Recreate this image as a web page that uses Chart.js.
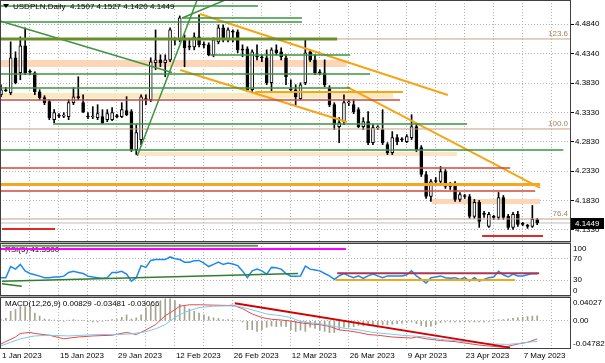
<!DOCTYPE html>
<html lang="en">
<head>
<meta charset="UTF-8">
<title>USDPLN Daily</title>
<script src="https://cdn.jsdelivr.net/npm/chart.js"></script>
<style>
  body { margin: 0; background: #fff; }
  #wrap { position: relative; width: 605px; height: 363px; overflow: hidden; background: #fff; }
  #wrap canvas { position: absolute; left: 0; }
</style>
</head>
<body>
<div id="wrap">
  <canvas id="main" width="605" height="243" style="top:0"></canvas>
  <canvas id="rsi" width="605" height="54" style="top:243px"></canvas>
  <canvas id="macd" width="605" height="66" style="top:297px"></canvas>
</div>
<script>
// ---- data (bar index 0 = 1 Jan 2023) ----
const opens = [4.3635,4.3720,4.3669,4.4264,4.4009,4.4468,4.4026,4.4009,4.3686,4.3584,
4.3516,4.3210,4.3278,4.3270,4.3261,4.3499,4.3590,4.3499,4.3261,4.3255,
4.3244,4.3261,4.3210,4.3210,4.3265,4.3261,4.3363,4.3346,4.2700,4.2870,
4.3560,4.3550,4.4179,4.4230,4.4179,4.4230,4.4570,4.4570,4.4570,4.4451,
4.4451,4.4621,4.4485,4.4485,4.4315,4.4536,4.4774,4.4570,4.4706,4.4706,
4.4400,4.4417,4.3720,4.4290,4.4270,4.4264,4.3839,4.4400,4.4366,4.4264,
4.3725,4.3720,4.3567,4.3839,4.4366,4.4230,4.4015,4.4009,4.3754,4.3465,
4.3091,4.3176,4.3495,4.3465,4.3380,4.3091,4.3176,4.2819,4.3070,4.3040,
4.2785,4.2649,4.2904,4.2870,4.2836,4.2904,4.3091,4.2734,4.2275,4.1901,
4.2160,4.2156,4.2326,4.2075,4.2105,4.1850,4.1905,4.1901,4.1561,4.1799,
4.1600,4.1391,4.1550,4.1544,4.1884,4.1561,4.1374,4.1595,4.1430,4.1395,
4.1391,4.1507];
const highs = [4.3805,4.3760,4.4536,4.4366,4.4621,4.4774,4.4060,4.4026,4.3720,4.3618,
4.3550,4.3380,4.3312,4.3329,4.3550,4.3754,4.3941,4.3635,4.3329,4.3431,
4.3465,4.3380,4.3380,4.3414,4.3300,4.3499,4.3601,4.3380,4.3125,4.3635,
4.3635,4.4264,4.4740,4.4315,4.4315,4.4774,4.4604,4.4978,4.4655,4.4570,
4.4689,4.4995,4.4536,4.4519,4.4604,4.4825,4.4825,4.4774,4.4740,4.4740,
4.4485,4.4451,4.4400,4.4485,4.4315,4.4400,4.4434,4.4485,4.4434,4.4315,
4.3890,4.3805,4.3839,4.4570,4.4400,4.4315,4.4060,4.4230,4.3788,4.3499,
4.3244,4.3635,4.3550,4.3550,4.3414,4.3244,4.3346,4.3125,4.3108,4.3380,
4.2819,4.3006,4.2955,4.2904,4.2955,4.3295,4.3125,4.2768,4.2326,4.2190,
4.2224,4.2411,4.2360,4.2139,4.2156,4.1969,4.1935,4.1935,4.1850,4.1833,
4.1646,4.1629,4.1580,4.1969,4.1918,4.1595,4.1629,4.1646,4.1460,4.1425,
4.1748,4.1527];
const lows = [4.3601,4.3690,4.3635,4.3820,4.3890,4.3975,4.3975,4.3635,4.3550,4.3465,
4.3210,4.3159,4.3244,4.3244,4.3210,4.3465,4.3550,4.3329,4.3227,4.3227,
4.3210,4.3142,4.3176,4.3193,4.3240,4.3244,4.3278,4.2666,4.2615,4.2785,
4.3465,4.3516,4.4060,4.4111,4.3941,4.4196,4.4485,4.4536,4.4111,4.4400,
4.4400,4.4451,4.4434,4.4298,4.4281,4.4502,4.4536,4.4536,4.4536,4.4349,
4.4281,4.3686,4.3686,4.4230,4.4196,4.3805,4.3669,4.4315,4.4230,4.3805,
4.3669,4.3465,4.3550,4.3805,4.4196,4.3975,4.3975,4.3771,4.3431,4.3040,
4.2819,4.3125,4.3448,4.3312,4.3074,4.3040,4.2785,4.2785,4.3040,4.2785,
4.2615,4.2615,4.2785,4.2836,4.2819,4.2870,4.2666,4.2241,4.1867,4.1816,
4.2105,4.2122,4.2037,4.2020,4.1816,4.1816,4.1867,4.1527,4.1527,4.1374,
4.1544,4.1374,4.1510,4.1510,4.1510,4.1340,4.1340,4.1391,4.1400,4.1357,
4.1374,4.1420];
const closes = [4.3720,4.3700,4.4264,4.3839,4.4468,4.4009,4.4020,4.3686,4.3584,4.3499,
4.3244,4.3329,4.3270,4.3278,4.3499,4.3601,4.3584,4.3346,4.3255,4.3261,
4.3312,4.3159,4.3312,4.3329,4.3261,4.3380,4.3295,4.2700,4.2989,4.3601,
4.3550,4.4196,4.4230,4.4179,4.4230,4.4740,4.4565,4.4944,4.4434,4.4445,
4.4621,4.4485,4.4480,4.4315,4.4570,4.4774,4.4570,4.4740,4.4700,4.4400,
4.4395,4.3720,4.4366,4.4281,4.4264,4.3839,4.4400,4.4349,4.4281,4.3941,
4.3720,4.3601,4.3805,4.4349,4.4230,4.4009,4.4009,4.3805,4.3465,4.3125,
4.3159,4.3499,4.3499,4.3346,4.3091,4.3176,4.2819,4.3074,4.3074,4.2819,
4.2649,4.2904,4.2836,4.2865,4.2921,4.3091,4.2700,4.2275,4.1901,4.2156,
4.2156,4.2326,4.2071,4.2071,4.1850,4.1935,4.1901,4.1561,4.1799,4.1476,
4.1595,4.1595,4.1544,4.1884,4.1544,4.1374,4.1595,4.1425,4.1425,4.1391,
4.1510,4.1449];

const rsiValues = [34.6,34.6,55.6,50.7,59.7,47.4,42.4,40.0,37.5,34.6,
34.6,35.8,35.8,37.5,44.5,46.5,44.5,42.4,37.5,35.8,
34.6,33.4,34.6,44.5,44.5,46.5,41.2,28.0,34.6,57.3,
54.0,67.1,68.8,68.8,68.8,73.7,70.4,68.8,63.8,63.8,
66.3,67.1,62.2,55.6,59.7,63.8,59.7,62.2,60.5,57.3,
47.4,34.6,47.4,50.7,47.4,41.2,54.0,53.1,50.7,42.4,
37.5,37.5,37.9,56.4,50.7,49.0,47.4,42.4,37.9,31.3,
37.9,42.4,37.9,34.6,37.9,33.4,37.9,41.2,37.9,34.6,
37.9,37.9,37.9,37.9,40.0,47.4,37.9,31.3,24.7,34.6,
35.8,37.9,34.6,33.4,34.6,31.3,34.6,28.0,34.6,28.0,
31.3,34.6,35.8,46.5,40.0,35.8,41.2,37.9,37.9,40.0,
42.4,41.35];

const histValues = [0.002,0.004,0.016,0.019,0.024,0.024,0.022,0.013,0.008,0.003,
0.002,0.001,0,-0.001,0.001,0.002,0.001,0,-0.001,-0.002,
-0.002,-0.001,0,0.002,0.002,0.006,0.010,0.003,0.005,0.010,
0.022,0.028,0.031,0.034,0.037,0.037,0.034,0.028,0.025,0.020,
0.016,0.013,0.010,0.007,0.005,0.004,0.002,0.002,0.001,0,
-0.002,-0.015,-0.015,-0.018,-0.015,-0.011,-0.009,-0.010,-0.009,-0.010,
-0.015,-0.018,-0.016,-0.018,-0.011,-0.013,-0.016,-0.018,-0.020,-0.020,
-0.015,-0.011,-0.010,-0.010,-0.008,-0.009,-0.008,-0.007,-0.007,-0.007,
-0.007,-0.006,-0.005,-0.004,-0.003,-0.002,-0.005,-0.008,-0.010,-0.009,
-0.007,-0.003,-0.002,-0.002,-0.002,-0.002,-0.002,-0.002,-0.002,-0.002,
-0.002,-0.001,0,0.002,0.002,0.003,0.004,0.005,0.006,0.007,
0.008,0.00829];

const macdIdx = [0,1,3,4,6,7,10,13,16,19,23,26,28,30,32,34,36,37,39,41,44,47,48,50,52,54,56,58,60,62,64,66,68,70,72,74,76,78,81,85,86,88,91,94,96,99,102,104,107,109,111];
const macdVals = [-0.0394,-0.0353,-0.0275,-0.0215,-0.0197,-0.0215,-0.0245,-0.0305,-0.0275,-0.0257,-0.0245,-0.0197,-0.0233,-0.0155,-0.0065,0.0085,0.0187,0.0247,0.0271,0.0271,0.0265,0.0259,0.0265,0.0205,0.0115,0.0055,0.0025,0.0013,-0.0005,-0.0035,-0.0053,-0.0065,-0.0095,-0.0155,-0.0173,-0.0197,-0.0233,-0.0245,-0.0275,-0.0293,-0.0275,-0.0305,-0.0335,-0.0353,-0.0377,-0.0412,-0.0435,-0.0450,-0.0394,-0.0365,-0.03066];
const sigIdx = [0,2,4,7,10,14,17,20,24,27,30,32,34,36,38,41,44,47,49,51,53,55,58,60,61,62,64,66,69,71,74,77,80,83,85,88,91,94,96,99,102,105,107,109,111];
const sigVals = [-0.0424,-0.0365,-0.0305,-0.0257,-0.0245,-0.0257,-0.0245,-0.0233,-0.0233,-0.0221,-0.0185,-0.0137,-0.0065,0.0055,0.0145,0.0223,0.0247,0.0253,0.0247,0.0205,0.0163,0.0115,0.0085,0.0055,0.0020,-0.0010,-0.0035,-0.0053,-0.0095,-0.0125,-0.0155,-0.0197,-0.0221,-0.0245,-0.0257,-0.0275,-0.0317,-0.0335,-0.0353,-0.0377,-0.0394,-0.0400,-0.0385,-0.0365,-0.03481];

const dateLabels = ['1 Jan 2023','15 Jan 2023','29 Jan 2023','12 Feb 2023','26 Feb 2023','12 Mar 2023','26 Mar 2023','9 Apr 2023','23 Apr 2023','7 May 2023'];
const priceTicks = [4.4840, 4.4340, 4.3830, 4.3330, 4.2830, 4.2330, 4.1830, 4.1330];
const rsiTicks = [100, 70, 30, 0];
const macdTicks = [0.04027, 0, -0.04782];

// drawn objects: [price, fromBar, toBar] and [bar1, value1, bar2, value2]
const greenLevels = [[4.5147,-0.2,53.2],[4.4874,-0.2,62.3],[4.4942,37.5,62.3],[4.4312,43.3,72.3],[4.3988,-0.2,76.4],[4.3749,-0.2,72.3],[4.3136,10.8,96.5],[4.2693,-0.2,116.4]];
const oliveLevels = [[4.4584,-0.2,69.6]];
const redLevels = [[4.3545,-0.2,82.6],[4.2386,-0.2,105.4],[4.1994,-0.2,110.6]];
const redShortLevels = [[4.1347,0.2,11.2],[4.1228,99.6,112.2]];
const orangeLevels = [[4.3681,52.6,83.2]];
const orangeThickLevels = [[4.2105,-0.2,111.6]];
const fiboLevels = [4.4585, 4.3051, 4.1517];
const fiboNames = ['123.6', '100.0', '76.4'];
const zones = [[4.4227,4.4107,-0.2,71.6],[4.3664,4.3579,-0.2,81.2],[4.2659,4.2591,28.2,94.4],[4.1858,4.1773,89.2,111.6]];
const greenTrends = [[-0.2,4.4891,35.4,4.4012],[28.2,4.2591,40.6,4.5249],[37.5,4.4942,46.4,4.5249]];
const orangeTrends = [[41.2,4.5010,92.5,4.3630],[71.6,4.3767,111.6,4.2046],[37.1,4.4056,71.6,4.3170]];
const rsiLevels = [[94.7,0.2,53.2],[88.8,-0.2,71.4],[43.1,69.6,111.4],[30.0,69.2,106.4]];
const rsiTrends = [[0.2,28.0,61.5,42.5],[0.2,22.9,4.3,18.2]];
const macdTrends = [[48.4,0.0295,105.4,-0.0455]];

// ---- layout / style ----
const F = '"Liberation Sans", Arial, sans-serif';
const gridColor = '#b4b4b4';
const xMin = -0.207, xMax = 118.0;
const gridIdx = [];
for (let i = 0; i <= xMax; i += 6) gridIdx.push(i);
const idx = closes.map((_, i) => i);
const last = closes.length - 1;

function xScale(h) {
  return {
    type: 'linear', min: xMin, max: xMax, offset: false,
    afterBuildTicks: s => { s.ticks = gridIdx.map(v => ({ value: v })); },
    afterFit: s => { s.height = h; },
    ticks: { display: false },
    grid: { color: gridColor, drawTicks: false, offset: false },
    border: { display: false, dash: [1, 2] }
  };
}
function yScale(min, max, ticks, tickLen) {
  return {
    position: 'right', min, max,
    afterBuildTicks: s => { s.ticks = ticks.map(v => ({ value: v })); },
    afterFit: s => { s.width = 34; },
    ticks: { display: false },
    grid: { color: gridColor, drawTicks: tickLen > 0, tickLength: tickLen, tickColor: '#000', tickBorderDash: [] },
    border: { display: false, dash: [1, 2] }
  };
}
function seg(x1, y1, x2, y2, color, width, order) {
  return { type: 'line', data: [{ x: x1, y: y1 }, { x: x2, y: y2 }], borderColor: color, borderWidth: width,
           pointRadius: 0, fill: false, order: order ?? 0 };
}
const levels = (arr, color, w) => arr.map(l => seg(l[1], l[0], l[2], l[0], color, w));
const trends = (arr, color, w) => arr.map(t => seg(t[0], t[1], t[2], t[3], color, w));

const frame = {
  id: 'frame',
  afterDraw(chart) {
    const { ctx, chartArea: a } = chart;
    ctx.save();
    ctx.fillStyle = '#a8a8a8';
    ctx.fillRect(0, a.bottom, a.right, chart.height - a.bottom > 1 ? 0 : 1);
    ctx.strokeStyle = '#404040';
    ctx.lineWidth = 1;
    ctx.strokeRect(a.left + 0.5, a.top + 0.5, a.right - a.left - 1, a.bottom - a.top - 1);
    ctx.restore();
  }
};
const opts = (scales, padding, plugins) => ({
  type: 'bar', options: {
    responsive: false, animation: false, devicePixelRatio: 1, events: [],
    layout: { padding },
    plugins: { legend: { display: false }, tooltip: { enabled: false } },
    scales
  }, plugins
});

// ---- main price chart ----
const zoneColors = ['#fcd6b6', '#f8eabf', '#fde4c6', '#fbd7b8'];
const mainSets = [];
mainSets.push(...levels(greenLevels, '#3d9440', 1.5));
mainSets.push(...levels(oliveLevels, '#6a8f2a', 3));
mainSets.push(...levels(redLevels, '#cf4a3c', 1.5));
mainSets.push(...levels(redShortLevels, '#e02a2a', 2));
mainSets.push(...levels(orangeLevels, '#f5a516', 2));
mainSets.push(...levels(orangeThickLevels, '#f5a623', 3));
mainSets.push(...trends(greenTrends, '#3d9440', 1.5));
mainSets.push(...trends(orangeTrends, '#f5a516', 2));
fiboLevels.forEach(p => mainSets.push(seg(xMin, p, xMax, p, '#c9a083', 1, 1)));
mainSets.push({ type: 'bar', data: idx.map(i => ({ x: i, y: [opens[i], closes[i]] })),
  backgroundColor: c => closes[c.dataIndex] >= opens[c.dataIndex] ? '#fff' : '#000',
  borderColor: '#000', borderWidth: 1, borderSkipped: false, barThickness: 3, minBarLength: 1, grouped: false, order: 2 });
mainSets.push({ type: 'bar', data: idx.map(i => ({ x: i, y: [lows[i], highs[i]] })),
  backgroundColor: '#000', barThickness: 1, grouped: false, order: 3 });
mainSets.push(seg(xMin, closes[last], xMax, closes[last], '#bdbdbd', 1, 4));
zones.forEach((z, k) => mainSets.push({ type: 'line', data: [{ x: z[2], y: z[0] }, { x: z[3], y: z[0] }],
  borderWidth: 0, pointRadius: 0, fill: { value: z[1] }, backgroundColor: zoneColors[k], order: 5 }));

const mainText = {
  id: 'mainText',
  afterDraw(chart) {
    const { ctx, chartArea: a, scales: { y } } = chart;
    ctx.save();
    ctx.font = '8px ' + F;
    ctx.textBaseline = 'middle';
    ctx.fillStyle = '#000';
    ctx.textAlign = 'left';
    priceTicks.forEach(v => ctx.fillText(v.toFixed(4), a.right + 4, y.getPixelForValue(v)));
    // title
    ctx.beginPath(); ctx.moveTo(3, 4); ctx.lineTo(9, 4); ctx.lineTo(6, 8); ctx.closePath(); ctx.fill();
    ctx.fillText('USDPLN,Daily  ' + [opens[last], highs[last], lows[last], closes[last]].map(v => v.toFixed(4)).join(' '), 13, 7);
    // fibo labels
    ctx.fillStyle = '#a87e60';
    ctx.textAlign = 'right';
    ctx.textBaseline = 'bottom';
    fiboLevels.forEach((p, k) => ctx.fillText(fiboNames[k], a.right - 3, y.getPixelForValue(p) - 1));
    // current price box
    const py = Math.round(y.getPixelForValue(closes[last]));
    ctx.fillStyle = '#000';
    ctx.fillRect(a.right, py - 5, 33, 11);
    ctx.fillStyle = '#fff';
    ctx.textAlign = 'left';
    ctx.textBaseline = 'middle';
    ctx.fillText(closes[last].toFixed(4), a.right + 4, py + 0.5);
    ctx.restore();
  }
};
const mainCfg = opts({ x: xScale(0), y: yScale(4.1125, 4.5249, priceTicks, 3) }, { bottom: 1 }, [frame, mainText]);
mainCfg.data = { datasets: mainSets };
new Chart(document.getElementById('main'), mainCfg);

// ---- side labels for indicator windows ----
function sideLabels(ticks, fmt, legend) {
  return {
    id: 'side',
    beforeDatasetsDraw(chart) {
      const { ctx } = chart;
      ctx.save();
      ctx.font = '8px ' + F; ctx.fillStyle = '#000'; ctx.textBaseline = 'middle'; ctx.textAlign = 'left';
      ctx.fillText(legend, 5, 7);
      ctx.restore();
    },
    afterDraw(chart) {
      const { ctx, chartArea: a, scales: { y } } = chart;
      ctx.save();
      ctx.font = '8px ' + F; ctx.fillStyle = '#000'; ctx.textBaseline = 'middle'; ctx.textAlign = 'left';
      ticks.forEach(v => {
        const py = Math.min(Math.max(y.getPixelForValue(v), a.top + 6), a.bottom - 5);
        ctx.fillText(fmt(v), a.right + 2, py);
      });
      ctx.restore();
    }
  };
}

// ---- RSI ----
const rsiSets = [];
rsiSets.push({ type: 'line', data: idx.map(i => ({ x: i, y: rsiValues[i] })), borderColor: '#1e88f0', borderWidth: 1.5, pointRadius: 0, order: 1 });
const rsiColors = ['#6f8f5c', '#ff00ff', '#b0344e', '#f5a516'];
rsiLevels.forEach((l, k) => rsiSets.push(seg(l[1], l[0], l[2], l[0], rsiColors[k], 2)));
rsiSets.push(...trends(rsiTrends, '#2f7f2f', 1.5));
const rsiCfg = opts({ x: xScale(0), y: yScale(0, 100, [70, 30], 0) }, { bottom: 1 },
  [frame, sideLabels(rsiTicks, v => String(v), 'RSI(5) ' + rsiValues[last].toFixed(4))]);
rsiCfg.type = 'line';
rsiCfg.data = { datasets: rsiSets };
new Chart(document.getElementById('rsi'), rsiCfg);

// ---- MACD ----
const macdSets = [];
macdSets.push(...trends(macdTrends, '#d40000', 2));
macdSets.push({ type: 'line', data: sigIdx.map((x, k) => ({ x, y: sigVals[k] })), borderColor: '#7cc9ec', borderWidth: 1, pointRadius: 0, order: 1 });
macdSets.push({ type: 'line', data: macdIdx.map((x, k) => ({ x, y: macdVals[k] })), borderColor: '#e8484b', borderWidth: 1, pointRadius: 0, order: 1 });
macdSets.push({ type: 'bar', data: idx.map(i => ({ x: i, y: histValues[i] })), backgroundColor: '#a3a38f', barThickness: 1, grouped: false, order: 2 });
const dateText = {
  id: 'dateText',
  afterDraw(chart) {
    const { ctx, chartArea: a, scales: { x } } = chart;
    ctx.save();
    ctx.font = '8px ' + F; ctx.fillStyle = '#000'; ctx.textBaseline = 'middle'; ctx.textAlign = 'left';
    dateLabels.forEach((t, k) => ctx.fillText(t, x.getPixelForValue(k * 12) + 1, a.bottom + 7));
    ctx.restore();
  }
};
const macdLegend = 'MACD(12,26,9) ' + [histValues[last], sigVals[sigVals.length - 1], macdVals[macdVals.length - 1]].map(v => v.toFixed(5)).join(' ');
const macdCfg = opts({ x: xScale(14), y: yScale(-0.04782, 0.04027, [0], 0) }, {},
  [frame, sideLabels(macdTicks, v => v === 0 ? '0.00' : v.toFixed(5), macdLegend), dateText]);
macdCfg.data = { datasets: macdSets };
new Chart(document.getElementById('macd'), macdCfg);
</script>
</body>
</html>
